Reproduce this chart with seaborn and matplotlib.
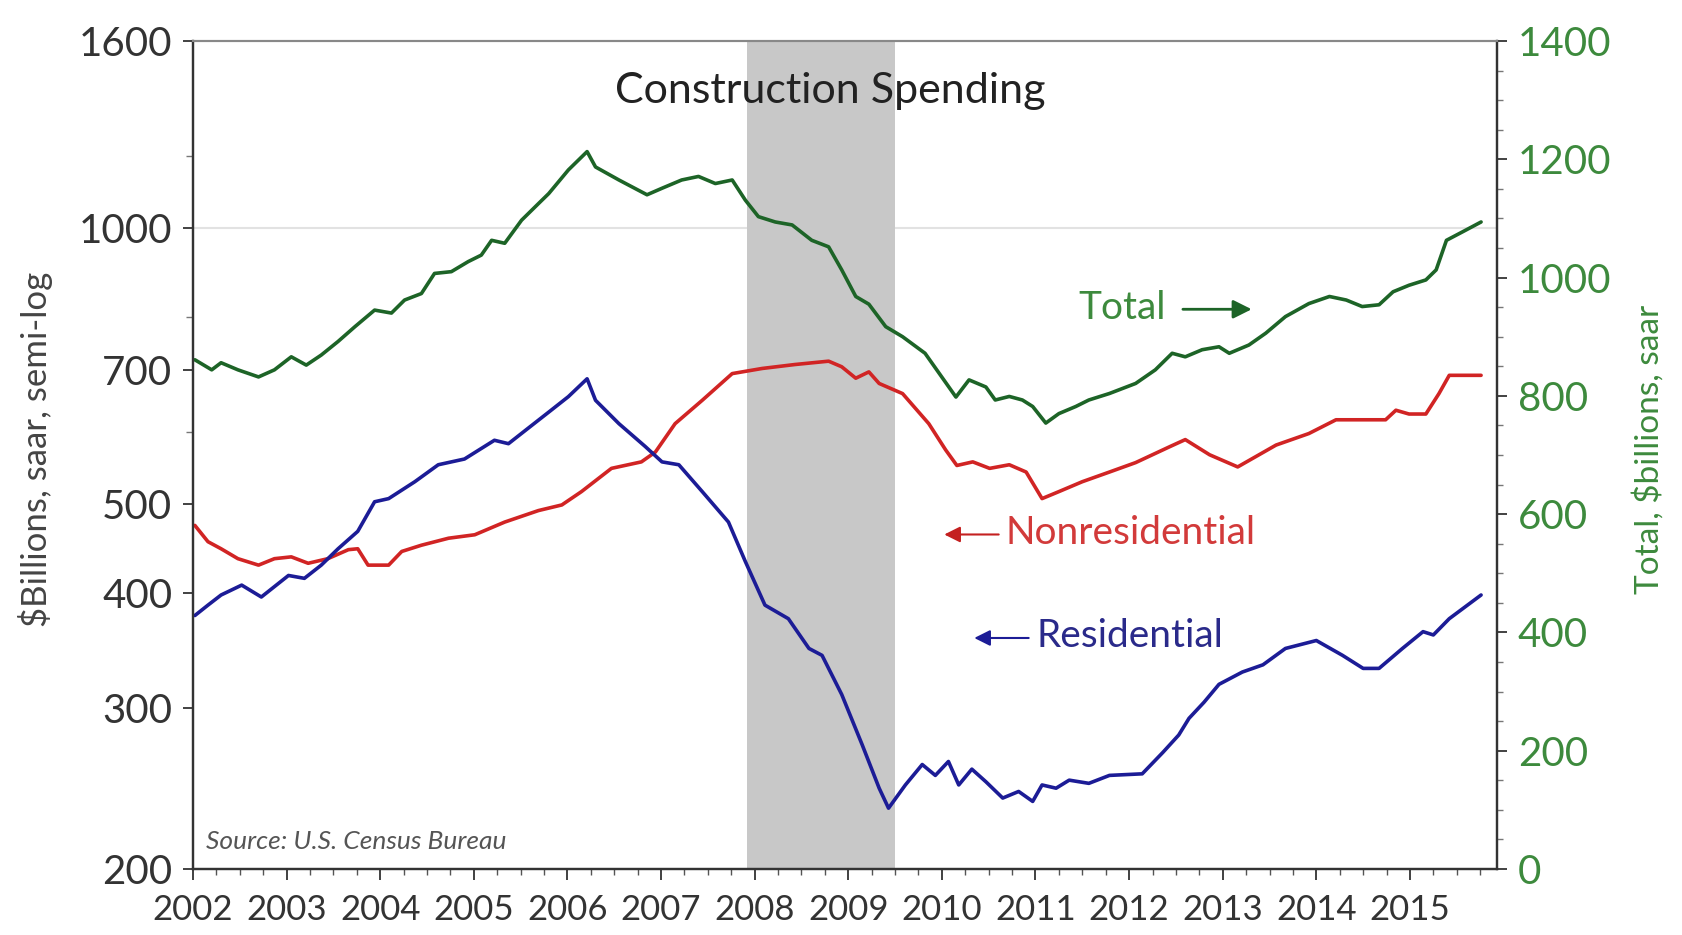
import numpy as np
import pandas as pd
import matplotlib
matplotlib.use("Agg")
import matplotlib.pyplot as plt
import seaborn as sns
from matplotlib.ticker import FixedLocator, NullFormatter

# Valeurs (années décimales, $ milliards)
total_t = [2002.02, 2002.20, 2002.30, 2002.48, 2002.70, 2002.87, 2003.05, 2003.21, 2003.37, 2003.55,
           2003.73, 2003.94, 2004.12, 2004.26, 2004.44, 2004.58, 2004.76, 2004.94, 2005.08, 2005.19,
           2005.33, 2005.51, 2005.69, 2005.80, 2006.01, 2006.21, 2006.30, 2006.55, 2006.85, 2007.01,
           2007.22, 2007.40, 2007.58, 2007.76, 2007.90, 2008.04, 2008.22, 2008.40, 2008.61, 2008.79,
           2008.93, 2009.08, 2009.22, 2009.40, 2009.58, 2009.82, 2010.15, 2010.29, 2010.47, 2010.57,
           2010.72, 2010.86, 2010.97, 2011.11, 2011.25, 2011.43, 2011.57, 2011.79, 2012.07, 2012.28,
           2012.46, 2012.60, 2012.78, 2012.96, 2013.07, 2013.28, 2013.46, 2013.67, 2013.92, 2014.14,
           2014.32, 2014.49, 2014.67, 2014.82, 2014.99, 2015.17, 2015.28, 2015.39, 2015.57, 2015.76]
total_v = [861, 844, 856, 844, 832, 844, 866, 852, 869, 892,
           917, 945, 940, 962, 973, 1007, 1010, 1027, 1038, 1063,
           1058, 1097, 1125, 1142, 1182, 1213, 1187, 1165, 1140, 1151,
           1165, 1171, 1159, 1165, 1131, 1103, 1094, 1089, 1063, 1052,
           1013, 968, 955, 917, 900, 872, 798, 827, 815, 793,
           799, 793, 782, 754, 770, 782, 793, 804, 821, 844,
           872, 866, 878, 883, 872, 886, 906, 934, 956, 968,
           962, 951, 954, 976, 987, 996, 1013, 1063, 1078, 1094]

nonres_t = [2002.02, 2002.16, 2002.30, 2002.48, 2002.70, 2002.87, 2003.05, 2003.23, 2003.44, 2003.66,
            2003.76, 2003.87, 2004.09, 2004.23, 2004.44, 2004.73, 2005.01, 2005.33, 2005.69, 2005.94,
            2006.15, 2006.47, 2006.79, 2006.94, 2007.15, 2007.44, 2007.76, 2008.08, 2008.43, 2008.79,
            2008.93, 2009.08, 2009.22, 2009.33, 2009.58, 2009.86, 2010.04, 2010.16, 2010.33, 2010.51,
            2010.72, 2010.90, 2011.07, 2011.25, 2011.50, 2011.79, 2012.07, 2012.44, 2012.60, 2012.86,
            2013.16, 2013.57, 2013.92, 2014.21, 2014.49, 2014.74, 2014.85, 2014.99, 2015.17, 2015.31,
            2015.42, 2015.76]
nonres_v = [474, 455, 447, 436, 429, 436, 438, 431, 436, 446,
            447, 429, 429, 444, 451, 459, 463, 478, 492, 499,
            516, 547, 556, 570, 612, 649, 694, 703, 710, 716,
            706, 686, 697, 677, 660, 612, 573, 551, 556, 547,
            552, 542, 507, 516, 529, 542, 555, 578, 588, 566,
            549, 580, 597, 618, 618, 618, 633, 627, 627, 660,
            691, 691]

res_t = [2002.02, 2002.16, 2002.30, 2002.52, 2002.73, 2003.02, 2003.19, 2003.37, 2003.55, 2003.76,
         2003.94, 2004.09, 2004.37, 2004.62, 2004.90, 2005.22, 2005.37, 2005.58, 2005.80, 2006.01,
         2006.21, 2006.30, 2006.55, 2006.83, 2007.01, 2007.19, 2007.44, 2007.72, 2007.90, 2008.11,
         2008.36, 2008.58, 2008.72, 2008.93, 2009.15, 2009.33, 2009.43, 2009.61, 2009.79, 2009.93,
         2010.07, 2010.18, 2010.32, 2010.47, 2010.65, 2010.82, 2010.97, 2011.07, 2011.22, 2011.36,
         2011.57, 2011.79, 2012.14, 2012.36, 2012.53, 2012.64, 2012.80, 2012.96, 2013.21, 2013.43,
         2013.67, 2014.00, 2014.28, 2014.50, 2014.67, 2014.92, 2015.14, 2015.25, 2015.42, 2015.76]
res_v = [378, 388, 398, 408, 396, 418, 415, 429, 447, 467,
         503, 507, 529, 552, 560, 587, 582, 605, 630, 655,
         685, 649, 612, 578, 556, 552, 516, 478, 433, 388,
         375, 348, 342, 310, 273, 245, 233, 247, 260, 253,
         262, 247, 257, 249, 239, 243, 237, 247, 245, 250,
         248, 253, 254, 268, 280, 292, 304, 318, 328, 334,
         348, 355, 342, 331, 331, 348, 363, 360, 375, 398]

recession = (2007.917, 2009.5)
years = list(range(2002, 2016))
left_ticks = [200, 300, 400, 500, 700, 1000, 1600]
right_ticks = list(range(0, 1401, 200))

green = "#1d6427"
red = "#d12424"
blue = "#1c1c96"
txt = "#333333"

sns.set_style("ticks")
plt.rcParams['font.family'] = ['Lato', 'DejaVu Sans']

df_total = pd.DataFrame({"t": total_t, "v": total_v})
df_nonres = pd.DataFrame({"t": nonres_t, "v": nonres_v})
df_res = pd.DataFrame({"t": res_t, "v": res_v})

fig = plt.figure(figsize=(16.82, 9.35), dpi=100)
ax = fig.add_axes([193/1682, 1 - 869/935, 1304/1682, 828/935])
ax2 = ax.twinx()

# zone de récession et ligne de grille à 1000
ax.axvspan(*recession, color="#c8c8c8", lw=0, zorder=0.5)
ax.axhline(1000, color="#e2e2e2", lw=1.5, zorder=0.2)

sns.lineplot(data=df_nonres, x="t", y="v", ax=ax, color=red, lw=2.6, zorder=3)
sns.lineplot(data=df_res, x="t", y="v", ax=ax, color=blue, lw=2.6, zorder=3)
sns.lineplot(data=df_total, x="t", y="v", ax=ax2, color=green, lw=2.6)

# axe gauche semi-log
ax.set_yscale("log")
ax.set_ylim(200, 1600)
ax.yaxis.set_major_locator(FixedLocator(left_ticks))
ax.set_yticklabels([str(v) for v in left_ticks])
ax.yaxis.set_minor_locator(FixedLocator([600, 800, 1200]))
ax.yaxis.set_minor_formatter(NullFormatter())
ax.set_xlim(2002, 2015.93)
ax.set_xticks(years)
ax.set_xticklabels([str(y) for y in years])
ax.set_xticks(np.arange(2002, 2016, 0.25), minor=True)
ax.set_xlabel("")
ax.set_ylabel("")
ax.tick_params(axis="y", which="major", labelsize=29, length=7, width=1.3, colors=txt, pad=8)
ax.tick_params(axis="y", which="minor", length=5, width=1, colors="#777777")
ax.tick_params(axis="x", which="major", labelsize=25, length=8, width=1.3, colors=txt, pad=10)
ax.tick_params(axis="x", which="minor", length=4, width=1, colors="#555555")

# axe droit linéaire (total)
ax2.set_ylim(0, 1400)
ax2.set_yticks(right_ticks)
ax2.set_yticklabels([str(v) for v in right_ticks])
ax2.set_yticks(list(range(0, 1401, 50)), minor=True)
ax2.set_ylabel("")
ax2.tick_params(axis="y", which="major", labelsize=29, length=7, width=1.3, colors="#333333",
                labelcolor="#3d8a3d", pad=8)
ax2.tick_params(axis="y", which="minor", length=4, width=1, colors="#777777")

for a in (ax, ax2):
    for s in ("left", "right", "bottom"):
        a.spines[s].set_color("#333333")
        a.spines[s].set_linewidth(1.6)
    a.spines["top"].set_color("#888888")
    a.spines["top"].set_linewidth(1.5)

# textes
ax.text(0.489, 0.94, "Construction Spending", transform=ax.transAxes, ha="center", va="center",
        fontsize=31, color="#222222")
ax.text(0.679, 0.678, "Total", transform=ax.transAxes, ha="left", va="center",
        fontsize=28, color="#3d8a3d")
ax.annotate("", xy=(0.814, 0.676), xytext=(0.757, 0.676), xycoords="axes fraction",
            arrowprops=dict(arrowstyle="-|>", color=green, lw=2, mutation_scale=28))
ax.text(0.623, 0.406, "Nonresidential", transform=ax.transAxes, ha="left", va="center",
        fontsize=28, color="#d23a3a")
ax.annotate("", xy=(0.574, 0.404), xytext=(0.620, 0.404), xycoords="axes fraction",
            arrowprops=dict(arrowstyle="-|>", color="#c42020", lw=1.5, mutation_scale=24))
ax.text(0.647, 0.281, "Residential", transform=ax.transAxes, ha="left", va="center",
        fontsize=28, color="#2a2a8a")
ax.annotate("", xy=(0.597, 0.279), xytext=(0.643, 0.279), xycoords="axes fraction",
            arrowprops=dict(arrowstyle="-|>", color="#1c1c96", lw=1.5, mutation_scale=24))
ax.text(0.010, 0.019, "Source: U.S. Census Bureau", transform=ax.transAxes, ha="left", va="bottom",
        fontsize=19, style="italic", color="#555555")

fig.text(0.021, 0.519, "$Billions, saar, semi-log", rotation=90, ha="center", va="center",
         fontsize=25, color="#444444")
fig.text(0.980, 0.519, "Total, $billions, saar", rotation=90, ha="center", va="center",
         fontsize=24, color="#3d8a3d")

fig.savefig("out.png", dpi=100)
